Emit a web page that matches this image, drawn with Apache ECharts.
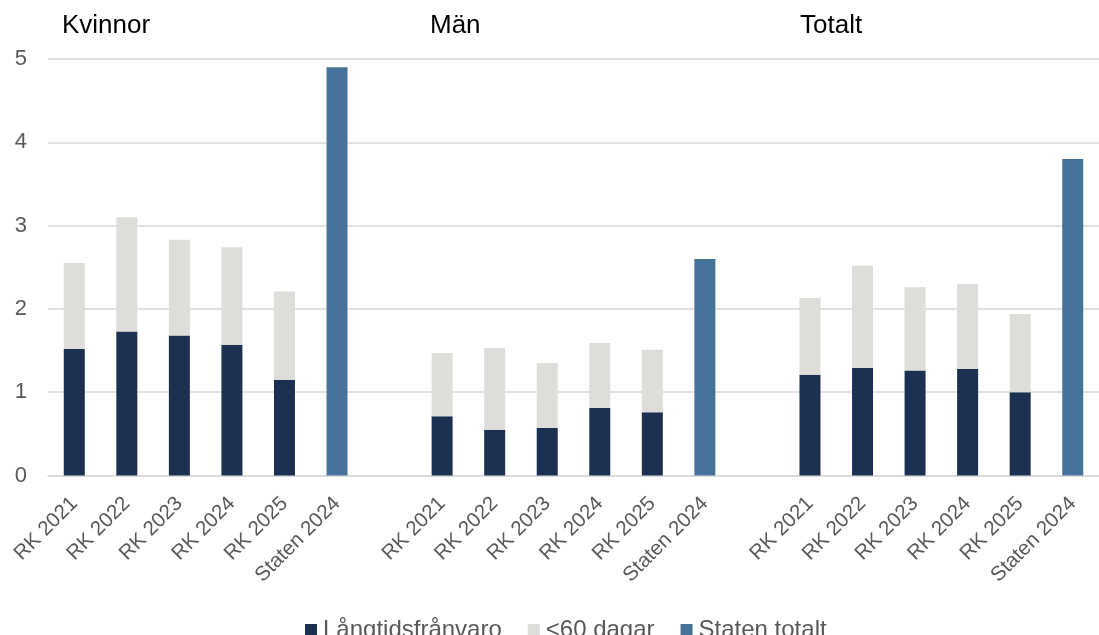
<!DOCTYPE html>
<html>
<head>
<meta charset="utf-8">
<script src="https://cdn.jsdelivr.net/npm/echarts@6/dist/echarts.min.js"></script>
<style>
html,body{margin:0;padding:0;background:#fff;}
#chart{width:1099px;height:635px;}
</style>
</head>
<body>
<div id="chart"></div>
<script>
const groupTitles = ['Kvinnor', 'Män', 'Totalt'];
const periods = ['RK 2021', 'RK 2022', 'RK 2023', 'RK 2024', 'RK 2025', 'Staten 2024'];
const seriesNames = ['Långtidsfrånvaro', '<60 dagar', 'Staten totalt'];
const yTicks = [0, 1, 2, 3, 4, 5];

// Långtidsfrånvaro (dark segment), RK 2021–2025
const langKvinnor = [1.52, 1.73, 1.68, 1.57, 1.15];
const langMan     = [0.71, 0.55, 0.57, 0.81, 0.76];
const langTotalt  = [1.21, 1.29, 1.26, 1.28, 1.00];
// <60 dagar (light segment), RK 2021–2025
const kortKvinnor = [1.03, 1.37, 1.15, 1.17, 1.06];
const kortMan     = [0.76, 0.98, 0.78, 0.78, 0.75];
const kortTotalt  = [0.92, 1.23, 1.00, 1.02, 0.94];
// Staten totalt 2024: Kvinnor, Män, Totalt
const statenTotalt = [4.9, 2.6, 3.8];

const langGroups = [langKvinnor, langMan, langTotalt];
const kortGroups = [kortKvinnor, kortMan, kortTotalt];

const categories = [];
const langData = [], kortData = [], statenData = [];
groupTitles.forEach((g, gi) => {
  if (gi > 0) { categories.push(''); langData.push(null); kortData.push(null); statenData.push(null); }
  periods.forEach((p, pi) => {
    categories.push(p);
    if (pi < 5) {
      langData.push(langGroups[gi][pi]);
      kortData.push(kortGroups[gi][pi]);
      statenData.push(null);
    } else {
      langData.push(null);
      kortData.push(null);
      statenData.push(statenTotalt[gi]);
    }
  });
});

const FONT = '"Liberation Sans", Arial, sans-serif';
const chart = echarts.init(document.getElementById('chart'), null, {renderer: 'canvas'});
chart.setOption({
  animation: false,
  textStyle: {fontFamily: FONT},
  grid: {left: 48, right: -12, top: 59, bottom: 159.5, containLabel: false},
  legend: {
    data: seriesNames,
    top: 613, left: 300,
    itemWidth: 12, itemHeight: 12, itemGap: 26,
    icon: 'rect',
    textStyle: {fontSize: 24, color: '#595959', fontFamily: FONT, padding: [0,0,0,1]}
  },
  graphic: groupTitles.map((t, i) => ({
    type: 'text',
    left: [62, 430, 800][i],
    top: 13,
    style: {text: t, fontSize: 26, fill: '#000', fontFamily: FONT}
  })),
  xAxis: {
    type: 'category',
    data: categories,
    axisLine: {show: true, lineStyle: {color: '#d9d9d9', width: 1.5}},
    axisTick: {show: false},
    axisLabel: {interval: 0, rotate: 45, fontSize: 20.5, color: '#595959', margin: 25, fontFamily: FONT}
  },
  yAxis: {
    type: 'value',
    min: yTicks[0], max: yTicks[yTicks.length - 1], interval: 1,
    axisLine: {show: false},
    axisTick: {show: false},
    splitLine: {lineStyle: {color: '#d9d9d9', width: 1.5}},
    axisLabel: {fontSize: 22, color: '#595959', margin: 21, fontFamily: FONT}
  },
  series: [
    {name: seriesNames[0], type: 'bar', stack: 'a', barWidth: 21, data: langData,
     itemStyle: {color: '#1c3152'}},
    {name: seriesNames[1], type: 'bar', stack: 'a', barWidth: 21, data: kortData,
     itemStyle: {color: '#deddd9'}},
    {name: seriesNames[2], type: 'bar', stack: 'a', barWidth: 21, data: statenData,
     itemStyle: {color: '#467399'}}
  ]
});
</script>
</body>
</html>
